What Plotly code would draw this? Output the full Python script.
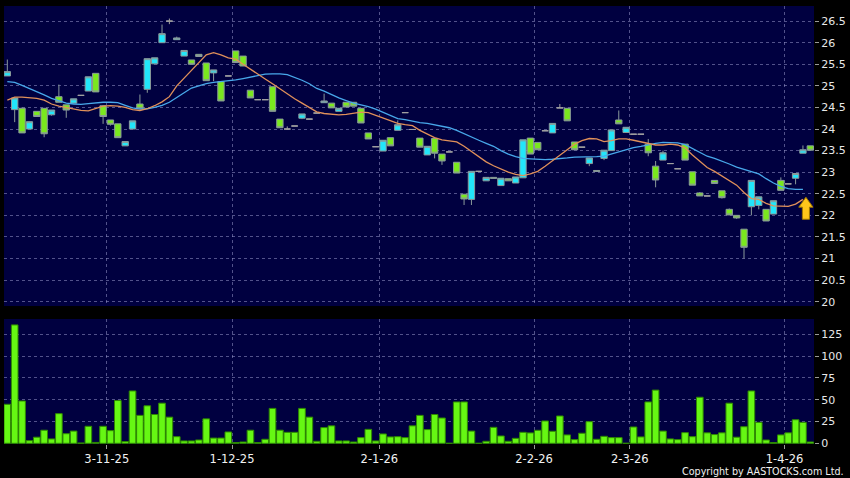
import plotly.graph_objects as go

# ---- data (one entry per trading session) ----
opens = [25.23, 24.45, 24.48, 24.0, 24.41, 24.48, 24.33, 24.75, 24.56, 24.6,
         24.78, 24.88, 25.29, 24.54, 24.21, 24.12, 23.61, 24.0, 24.58, 24.92,
         25.51, 26.0, 26.5, 26.07, 25.69, 25.6, 25.73, 25.53, 25.3, 25.1,
         25.23, 25.81, 25.69, 24.9, 24.68, 24.68, 24.98, 24.23, 24.0, 24.07,
         24.25, 24.23, 24.37, 24.61, 24.6, 24.41, 24.62, 24.62, 24.48, 23.91,
         23.59, 23.49, 23.8, 23.97, 24.38, 23.99, 23.79, 23.4, 23.78, 23.42,
         23.47, 23.23, 22.49, 22.37, 23.02, 22.8, 22.88, 22.69, 22.85, 22.75,
         22.87, 23.79, 23.69, 23.96, 23.91, 24.49, 24.48, 23.7, 23.58, 23.2,
         23.04, 23.32, 23.5, 24.21, 23.92, 23.88, 23.88, 23.65, 23.14, 23.28,
         23.2, 23.08, 23.65, 23.01, 22.52, 22.45, 22.81, 22.57, 22.14, 22.0,
         21.68, 22.2, 22.23, 22.14, 22.03, 22.81, 22.73, 22.86, 23.44, 23.61]
highs = [25.61, 24.72, 24.5, 24.17, 24.41, 24.48, 24.44, 25.03, 24.56, 24.7,
         24.78, 25.21, 25.29, 24.54, 24.21, 24.12, 23.71, 24.19, 24.8, 25.63,
         25.65, 26.42, 26.56, 26.14, 25.82, 25.6, 25.73, 25.53, 25.37, 25.1,
         25.23, 25.81, 25.69, 24.9, 24.68, 24.68, 24.98, 24.23, 24.06, 24.07,
         24.35, 24.23, 24.37, 24.82, 24.6, 24.48, 24.62, 24.62, 24.48, 23.91,
         23.59, 23.74, 23.8, 24.2, 24.38, 23.99, 23.79, 23.6, 23.78, 23.42,
         23.47, 23.23, 22.49, 23.02, 23.02, 22.88, 22.88, 22.86, 22.85, 22.89,
         23.75, 23.79, 23.69, 23.96, 24.13, 24.58, 24.48, 23.7, 23.58, 23.33,
         23.04, 23.51, 23.98, 24.43, 24.04, 23.88, 23.88, 23.77, 23.26, 23.5,
         23.2, 23.08, 23.65, 23.01, 22.54, 22.45, 22.81, 22.57, 22.16, 22.0,
         21.68, 22.81, 22.43, 22.14, 22.34, 22.88, 22.73, 22.97, 23.62, 23.61]
lows = [25.23, 24.16, 23.91, 24.0, 24.29, 23.81, 24.31, 24.62, 24.26, 24.6,
        24.78, 24.88, 24.86, 24.12, 24.08, 23.8, 23.61, 24.0, 24.48, 24.84,
        25.51, 26.0, 26.43, 26.07, 25.69, 25.5, 25.68, 25.12, 25.11, 24.65,
        25.23, 25.54, 25.46, 24.72, 24.68, 24.68, 24.41, 24.03, 24.0, 24.07,
        24.23, 24.23, 24.37, 24.61, 24.49, 24.41, 24.51, 24.53, 24.14, 23.77,
        23.59, 23.49, 23.61, 23.97, 24.38, 23.99, 23.58, 23.4, 23.32, 23.17,
        23.47, 22.98, 22.24, 22.24, 23.02, 22.8, 22.86, 22.69, 22.8, 22.75,
        22.87, 23.42, 23.52, 23.96, 23.91, 24.49, 24.19, 23.52, 23.58, 23.14,
        23.02, 23.28, 23.5, 24.12, 23.92, 23.88, 23.88, 23.37, 22.65, 23.28,
        23.2, 23.08, 23.28, 22.7, 22.45, 22.45, 22.74, 22.39, 22.01, 21.92,
        21.0, 22.0, 22.14, 21.87, 22.03, 22.58, 22.73, 22.72, 23.44, 23.51]
closes = [25.33, 24.72, 23.91, 24.17, 24.29, 23.89, 24.44, 24.62, 24.44, 24.7,
          24.78, 25.21, 24.86, 24.29, 24.11, 23.8, 23.71, 24.19, 24.48, 25.63,
          25.65, 26.21, 26.5, 26.11, 25.82, 25.5, 25.68, 25.12, 25.37, 24.65,
          25.23, 25.54, 25.46, 24.72, 24.68, 24.68, 24.41, 24.03, 24.0, 24.07,
          24.35, 24.23, 24.37, 24.65, 24.49, 24.48, 24.51, 24.53, 24.14, 23.77,
          23.59, 23.74, 23.61, 24.1, 24.38, 23.99, 23.58, 23.6, 23.44, 23.26,
          23.47, 22.98, 22.38, 23.02, 23.02, 22.88, 22.86, 22.86, 22.8, 22.89,
          23.75, 23.42, 23.52, 23.96, 24.13, 24.49, 24.19, 23.52, 23.58, 23.33,
          23.02, 23.51, 23.98, 24.12, 24.04, 23.88, 23.88, 23.45, 22.82, 23.45,
          23.2, 23.08, 23.28, 22.7, 22.45, 22.45, 22.74, 22.41, 22.01, 21.94,
          21.26, 22.81, 22.43, 21.87, 22.34, 22.58, 22.73, 22.97, 23.52, 23.51]
volumes = [44.7, 135.7, 48.5, 3, 7, 15, 5, 34, 11, 14,
           0.3, 19.5, 1, 19.5, 14.5, 49, 2, 60, 32, 43,
           33, 46, 30, 7.6, 2.7, 2.7, 3.8, 28, 6, 6,
           13, 0.8, 1.5, 15, 0.8, 4.6, 40, 15, 12.6, 12.6,
           40, 30, 2.3, 18, 20, 2.7, 2.7, 1.5, 6.5, 16,
           2.7, 10.7, 7.3, 7.6, 6.5, 20, 32, 15.7, 33, 29,
           0, 47.4, 47.4, 14, 0, 2.3, 18.3, 8.4, 2.3, 5.7,
           12.6, 11.9, 14.9, 25.6, 13.8, 31.3, 9.6, 4.2, 11.5, 24.8,
           4.6, 8, 6.5, 6.5, 0, 18.7, 7.3, 47.4, 61, 14,
           5, 4.2, 12.2, 7.6, 52.8, 12, 10, 12, 46, 7,
           19, 60, 24, 3.8, 0.8, 9.6, 12, 27, 24, 1.5]
ma_short = [24.67, 24.74, 24.74, 24.73, 24.71, 24.67, 24.58, 24.53, 24.5, 24.47,
            24.43, 24.42, 24.48, 24.53, 24.54, 24.53, 24.5, 24.45, 24.43, 24.47,
            24.54, 24.63, 24.75, 25.0, 25.18, 25.36, 25.55, 25.72, 25.77, 25.72,
            25.65, 25.62, 25.5, 25.38, 25.26, 25.16, 25.05, 24.93, 24.8, 24.7,
            24.6, 24.5, 24.4, 24.36, 24.35, 24.33, 24.34, 24.36, 24.39, 24.38,
            24.32, 24.26, 24.2, 24.13, 24.1, 24.08, 23.97, 23.89, 23.8, 23.75,
            23.72, 23.7, 23.6, 23.48, 23.35, 23.24, 23.15, 23.07, 23.0, 22.95,
            22.92, 22.96, 23.02, 23.14, 23.26, 23.39, 23.52, 23.65, 23.73, 23.78,
            23.77, 23.71, 23.73, 23.77, 23.77, 23.74, 23.7, 23.66, 23.63, 23.63,
            23.65, 23.63, 23.56, 23.4, 23.26, 23.11, 23.02, 22.92, 22.82, 22.7,
            22.53, 22.39, 22.37, 22.28, 22.22, 22.21, 22.21, 22.26, 22.37]
ma_long = [25.1, 25.08, 25.01, 24.94, 24.86, 24.79, 24.71, 24.65, 24.6, 24.58,
           24.57, 24.59, 24.61, 24.62, 24.62, 24.61, 24.55, 24.49, 24.46, 24.47,
           24.5, 24.55, 24.62, 24.72, 24.84, 24.95, 25.0, 25.05, 25.08, 25.1,
           25.11, 25.14, 25.17, 25.2, 25.24, 25.27, 25.28, 25.28, 25.26, 25.2,
           25.13, 25.05, 24.94, 24.88, 24.8, 24.72, 24.66, 24.6, 24.56, 24.52,
           24.46, 24.39, 24.31, 24.24, 24.22, 24.18, 24.15, 24.13, 24.1, 24.07,
           24.03, 23.97, 23.89, 23.82, 23.74, 23.67, 23.6, 23.5, 23.42, 23.36,
           23.32, 23.31, 23.3, 23.29, 23.3, 23.31, 23.33, 23.35, 23.35, 23.35,
           23.36, 23.37, 23.42, 23.48, 23.53, 23.57, 23.6, 23.64, 23.67, 23.69,
           23.69, 23.68, 23.64, 23.55, 23.45, 23.37, 23.32, 23.26, 23.19, 23.12,
           23.07, 23.02, 22.96, 22.85, 22.75, 22.67, 22.62, 22.6, 22.6]
month_start_index = [14, 31, 51, 72, 85, 106]
tick_labels = ["3-11-25", "1-12-25", "2-1-26", "2-2-26", "2-3-26", "1-4-26"]

sessions = list(range(len(closes)))

BG = "#000000"
PLOT_BG = "#000040"
GRID = "rgba(150,150,200,0.55)"
UP = "#22e6fa"
DOWN = "#7ae81e"
DOJI = "#a0a0a0"
OUTLINE = "#8a9a9a"

def subset(cond):
    idx = [i for i in sessions if cond(opens[i], closes[i])]
    return (idx, [opens[i] for i in idx], [highs[i] for i in idx],
            [lows[i] for i in idx], [closes[i] for i in idx])

fig = go.Figure()

fig.add_trace(go.Scatter(x=sessions[:len(ma_long)], y=ma_long, mode="lines",
                         line=dict(color="#48a8ea", width=1.3), hoverinfo="skip",
                         xaxis="x", yaxis="y", showlegend=False))
fig.add_trace(go.Scatter(x=sessions[:len(ma_short)], y=ma_short, mode="lines",
                         line=dict(color="#e0905a", width=1.3), hoverinfo="skip",
                         xaxis="x", yaxis="y", showlegend=False))

for cond, fill in [(lambda o, c: c > o, UP), (lambda o, c: c < o, DOWN),
                   (lambda o, c: c == o, DOJI)]:
    ix, o, h, l, c = subset(cond)
    line_col = DOJI if fill == DOJI else OUTLINE
    fig.add_trace(go.Candlestick(
        x=ix, open=o, high=h, low=l, close=c, xaxis="x", yaxis="y",
        increasing=dict(fillcolor=fill, line=dict(color=line_col, width=1)),
        decreasing=dict(fillcolor=fill, line=dict(color=line_col, width=1)),
        whiskerwidth=0, showlegend=False, hoverinfo="skip"))

fig.add_trace(go.Bar(x=sessions, y=volumes, xaxis="x2", yaxis="y2",
                     marker=dict(color="#66f713", line=dict(color="#2f8a00", width=1)),
                     showlegend=False, hoverinfo="skip"))

tick_pos = [i - 0.5 for i in month_start_index]
x_range = [-0.45, len(closes) - 0.5]

# block up-arrow marker next to the end of the short moving average
ax0 = len(ma_short) - 0.6          # centre (session units)
tip = ma_short[-1] + 0.05          # tip (price units)
hw_head, hw_shaft = 0.97, 0.48     # half widths in session units
head_h, total_h = 0.23, 0.51       # heights in price units
arrow_path = (f"M{ax0},{tip} L{ax0 + hw_head},{tip - head_h} L{ax0 + hw_shaft},{tip - head_h} "
              f"L{ax0 + hw_shaft},{tip - total_h} L{ax0 - hw_shaft},{tip - total_h} "
              f"L{ax0 - hw_shaft},{tip - head_h} L{ax0 - hw_head},{tip - head_h} Z")
fig.add_shape(type="path", path=arrow_path, xref="x", yref="y",
              fillcolor="#ffc61a", line=dict(color="#a07800", width=1))

fig.add_annotation(text="Copyright by AASTOCKS.com Ltd.", xref="paper", yref="paper",
                   x=1.0395, y=-0.0635, xanchor="right", yanchor="middle",
                   showarrow=False, font=dict(family="DejaVu Sans", size=9.6, color="#f0f0f0"))

axis_common = dict(showline=False, zeroline=False, gridcolor=GRID, griddash="3px,3px",
                   gridwidth=1)

fig.update_layout(
    width=850, height=478,
    paper_bgcolor=BG, plot_bgcolor=PLOT_BG,
    margin=dict(l=4, r=36, t=6, b=34),
    font=dict(family="DejaVu Sans", color="#e8e8e8", size=11),
    showlegend=False, bargap=0.1, boxmode="overlay", boxgap=0.14, boxgroupgap=0,
    xaxis=dict(domain=[0, 1], anchor="y", range=x_range, tickvals=tick_pos,
               showticklabels=False, ticks="", rangeslider=dict(visible=False),
               showgrid=True, **axis_common),
    xaxis2=dict(domain=[0, 1], anchor="y2", matches="x", range=x_range,
                tickvals=tick_pos, ticktext=tick_labels, ticks="outside", ticklen=4,
                tickcolor="#9a9a9a", tickfont=dict(size=11.5, color="#f2f2f2"),
                showgrid=True, **axis_common),
    yaxis=dict(domain=[0.315, 1], anchor="x", side="right", range=[19.9, 26.85],
               tick0=20, dtick=0.5, ticks="outside", ticklen=4, tickcolor="#9a9a9a",
               tickfont=dict(size=11, color="#e8e8e8"), showgrid=True, **axis_common),
    yaxis2=dict(domain=[0, 0.2854], anchor="x2", side="right", range=[-0.8, 142.5],
                tick0=0, dtick=25, ticks="outside", ticklen=4, tickcolor="#9a9a9a",
                tickfont=dict(size=11, color="#e8e8e8"), showgrid=True, **axis_common),
)

fig.write_html("out.html", config={"displayModeBar": False},
               post_script="document.body.style.margin='0px';document.body.style.background='#000';")
